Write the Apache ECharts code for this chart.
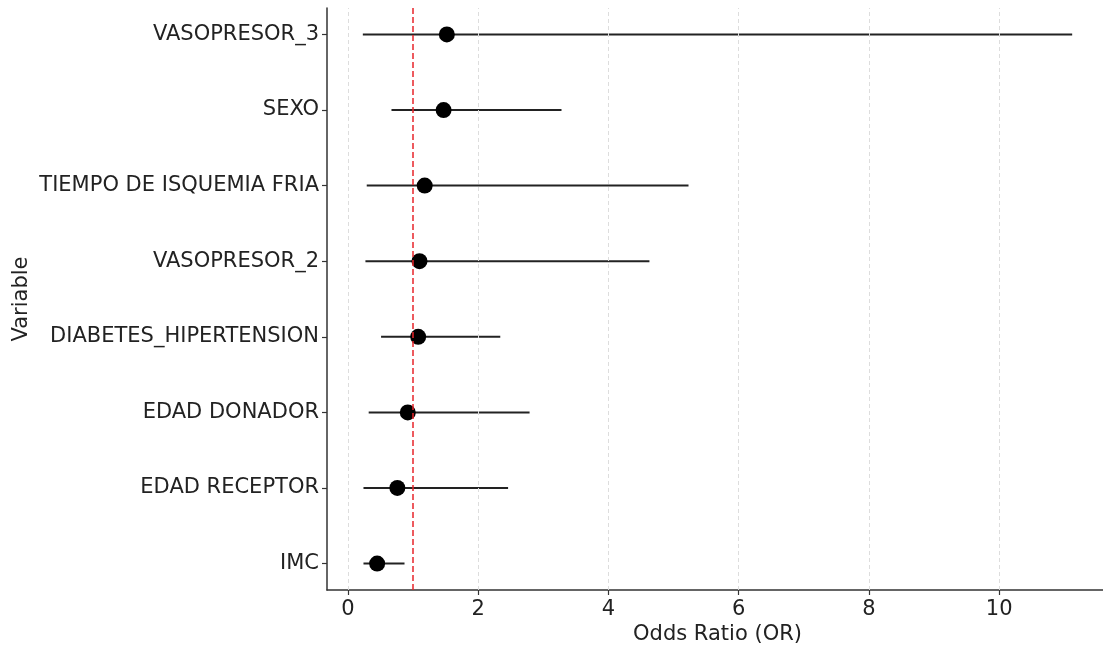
<!DOCTYPE html>
<html><head><meta charset="utf-8">
<script src="https://cdn.jsdelivr.net/npm/echarts@6/dist/echarts.min.js"></script>
<style>html,body{margin:0;padding:0;background:#fff}#c{width:1103px;height:646px}</style>
</head><body><div id="c"></div>
<script>
var categories = ["IMC","EDAD RECEPTOR","EDAD DONADOR","DIABETES_HIPERTENSION","VASOPRESOR_2","TIEMPO DE ISQUEMIA FRIA","SEXO","VASOPRESOR_3"];
var orValues = [0.45, 0.76, 0.92, 1.08, 1.10, 1.18, 1.47, 1.52];
var ciLow = [0.24, 0.24, 0.32, 0.51, 0.27, 0.29, 0.67, 0.23];
var ciHigh = [0.87, 2.46, 2.79, 2.34, 4.63, 5.23, 3.28, 11.12];
var xTicks = [0, 2, 4, 6, 8, 10];
var refLine = 1;

var idx = categories.map(function(_, i){ return i; });
var font = "DejaVu Sans";
var chart = echarts.init(document.getElementById('c'), null, {renderer:'canvas'});
chart.setOption({
  animation:false,
  backgroundColor:'#fff',
  grid:{left:327, top:8, width:781, height:582, containLabel:false, outerBoundsMode:'none'},
  xAxis:{
    type:'value', min:-0.32, max:11.67,
    name:'Odds Ratio (OR)', nameLocation:'middle', nameGap:34, nameMoveOverlap:false,
    nameTextStyle:{fontFamily:font, fontSize:21, color:'#222'},
    axisLine:{show:true, onZero:false, lineStyle:{color:'#333', width:1.5}},
    axisTick:{show:true, customValues:xTicks, length:5, lineStyle:{color:'#333', width:1.2}},
    axisLabel:{customValues:xTicks, margin:9, fontFamily:font, fontSize:21, color:'#222'},
    splitLine:{show:false}
  },
  yAxis:{
    type:'value', min:-0.35, max:7.35,
    name:'Variable', nameLocation:'middle', nameGap:295, nameRotate:90, nameMoveOverlap:false,
    nameTextStyle:{fontFamily:font, fontSize:21, color:'#222'},
    axisLine:{show:true, onZero:false, lineStyle:{color:'#333', width:1.5}},
    axisTick:{show:true, customValues:idx, length:5, lineStyle:{color:'#333', width:1.2}},
    axisLabel:{customValues:idx, margin:8, fontFamily:font, fontSize:21, color:'#222',
      formatter:function(v){ return categories[Math.round(v)]; }},
    splitLine:{show:false}
  },
  series:[
    {
      type:'line', data:[], silent:true,
      markLine:{symbol:'none', silent:true, label:{show:false},
        lineStyle:{color:'#ddd', type:[4,3], width:1},
        data:xTicks.map(function(t){ return {xAxis:t}; })}
    },
    {
      type:'custom', silent:true,
      data: idx.map(function(i){ return [ciLow[i], ciHigh[i], i]; }),
      encode:{x:[0,1], y:2},
      renderItem:function(params, api){
        var p1 = api.coord([api.value(0), api.value(2)]);
        var p2 = api.coord([api.value(1), api.value(2)]);
        return {type:'line', shape:{x1:p1[0], y1:p1[1], x2:p2[0], y2:p2[1]},
          style:{stroke:'#222', lineWidth:2}};
      },
      z:2
    },
    {
      type:'scatter', symbol:'circle', symbolSize:16,
      itemStyle:{color:'#000', opacity:1},
      data: idx.map(function(i){ return [orValues[i], i]; }),
      z:3,
      markLine:{symbol:'none', silent:true, label:{show:false},
        lineStyle:{color:'#e8242a', type:[6,3], width:1.5},
        data:[{xAxis:refLine}], z:4}
    }
  ]
});
</script></body></html>
